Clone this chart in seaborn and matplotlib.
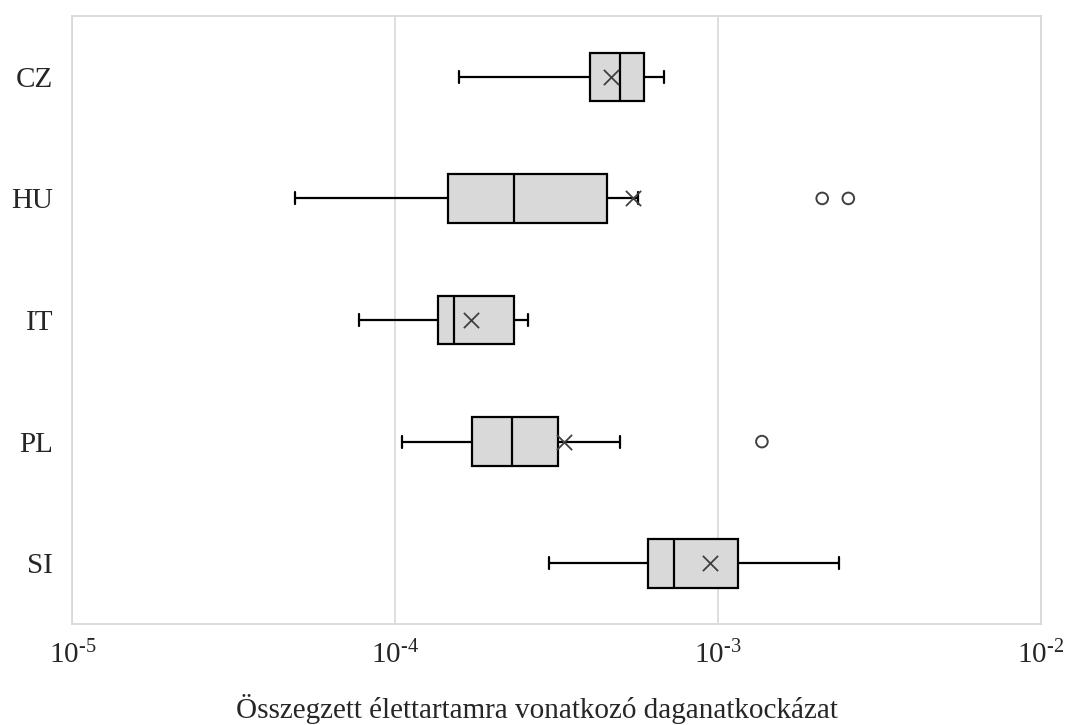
import numpy as np
import pandas as pd
import matplotlib
matplotlib.use("Agg")
import matplotlib.pyplot as plt
import seaborn as sns

# five-number summary per country (log axis)
countries = ['CZ', 'HU', 'IT', 'PL', 'SI']
whisker_low = [1.57e-4, 4.9e-5, 7.7e-5, 1.05e-4, 3.0e-4]
q1 = [4.0e-4, 1.46e-4, 1.36e-4, 1.73e-4, 6.06e-4]
median = [4.97e-4, 2.33e-4, 1.52e-4, 2.30e-4, 7.30e-4]
q3 = [5.91e-4, 4.51e-4, 2.33e-4, 3.19e-4, 1.155e-3]
whisker_high = [6.8e-4, 5.65e-4, 2.58e-4, 4.95e-4, 2.36e-3]
means = [4.67e-4, 5.45e-4, 1.72e-4, 3.32e-4, 9.41e-4]

# outliers
outlier_country = ['HU', 'HU', 'PL']
outlier_value = [2.10e-3, 2.53e-3, 1.366e-3]

xticks = [1e-5, 1e-4, 1e-3, 1e-2]
xtick_labels = [r'$\mathregular{10^{\text{-}5}}$', r'$\mathregular{10^{\text{-}4}}$',
                r'$\mathregular{10^{\text{-}3}}$', r'$\mathregular{10^{\text{-}2}}$']
xlabel = 'Összegzett élettartamra vonatkozó daganatkockázat'

sns.set_style('white')
plt.rcParams['font.family'] = ['Liberation Serif', 'DejaVu Serif']
plt.rcParams['mathtext.fontset'] = 'custom'
plt.rcParams['mathtext.rm'] = 'Liberation Serif'
plt.rcParams['mathtext.it'] = 'Liberation Serif:italic'

# long form: the box stats themselves, whiskers drawn to min/max
rows = []
for i, c in enumerate(countries):
    for v in (whisker_low[i], q1[i], median[i], q3[i], whisker_high[i]):
        rows.append({'country': c, 'value': v})
df = pd.DataFrame(rows)

fig = plt.figure(figsize=(10.74, 7.25), dpi=100)
ax = fig.add_axes([0.0675, 0.1393, 0.9018, 0.8386])

line_kws = dict(color='black', linewidth=1.6)
sns.boxplot(data=df, x='value', y='country', order=countries, ax=ax,
            whis=(0, 100), showfliers=False, log_scale=True, width=0.4,
            color='#d9d9d9', linecolor='black', linewidth=1.6,
            boxprops=dict(facecolor='#d9d9d9', edgecolor='black', linewidth=1.6),
            medianprops=line_kws, whiskerprops=line_kws, capprops=line_kws,
            capwidths=0.1)

pos = np.arange(len(countries))
sns.scatterplot(x=means, y=pos, ax=ax, marker='x', s=120, color='#404040',
                linewidth=1.3, zorder=5, legend=False)

opos = [countries.index(c) for c in outlier_country]
sns.scatterplot(x=outlier_value, y=opos, ax=ax, marker='o', s=70,
                facecolor='none', edgecolor='#404040', linewidth=1.4,
                zorder=5, legend=False)

ax.set_xlim(1e-5, 1e-2)
ax.set_ylim(4.5, -0.5)
ax.set_xticks(xticks)
ax.set_xticklabels(xtick_labels)
ax.xaxis.set_minor_locator(matplotlib.ticker.NullLocator())
ax.set_yticks(pos)
ax.set_yticklabels(countries)
ax.grid(axis='x', color='#d9d9d9', linewidth=1.2)
ax.set_axisbelow(True)
for sp in ax.spines.values():
    sp.set_color('#d9d9d9')
    sp.set_linewidth(1.3)
ax.tick_params(axis='both', length=0, labelsize=21)
ax.tick_params(axis='y', pad=14)
ax.tick_params(axis='x', pad=12)
ax.set_ylabel('')
ax.set_xlabel(xlabel, fontsize=21, x=0.4796, labelpad=18)

fig.savefig('out.png', dpi=100)
